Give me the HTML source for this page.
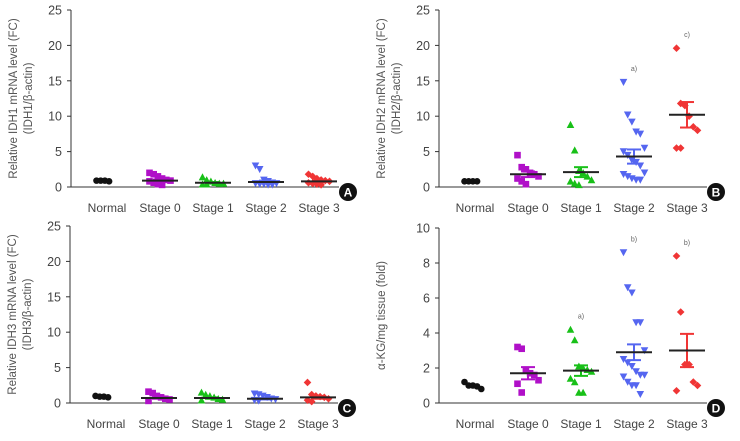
<!DOCTYPE html>
<html><head><meta charset="utf-8"><style>
body{margin:0;background:#fff;}
svg text{font-family:"Liberation Sans",sans-serif;}
</style></head><body>
<svg id="fig" width="740" height="436" viewBox="0 0 740 436" xmlns="http://www.w3.org/2000/svg"></svg>
<script>
const categories=["Normal","Stage 0","Stage 1","Stage 2","Stage 3"];
const colors=["#111","#b010c8","#18c018","#5566f0","#f03535"];
// Panel A (IDH1)
const aValues=[[0.9,0.9,0.9,0.8],[2.0,1.8,1.5,1.2,1.0,0.9,0.8,0.6,0.4,0.3],[1.4,1.0,0.8,0.6,0.5,0.5,0.4,0.4],[3.0,2.5,1.0,0.8,0.6,0.5,0.5,0.4,0.4,0.3,0.3],[1.8,1.5,1.2,1.0,0.9,0.8,0.6,0.5,0.4,0.3]];
const aMeans=[0.85,0.9,0.6,0.7,0.8];
const aSem=[0,0.15,0.1,0.2,0.15];
// Panel B (IDH2)
const bValues=[[0.8,0.8,0.8,0.8],[4.5,2.8,2.5,2.0,1.8,1.5,1.2,0.8,0.4],[8.8,5.2,2.3,2.0,1.5,1.0,0.8,0.5,0.3],[14.8,10.2,9.2,7.8,7.5,5.5,5.0,4.5,3.8,3.5,3.0,2.0,1.8,1.5,1.2,1.0,1.0],[19.6,11.8,11.5,10.0,8.5,8.0,5.5,5.5]];
const bMeans=[0.8,1.8,2.1,4.3,10.2];
const bSem=[0,0.4,0.7,1.0,1.8];
const bNotes=["","","","a)","c)"];
// Panel C (IDH3)
const cValues=[[1.0,0.9,0.9,0.8],[1.6,1.4,1.0,0.8,0.6,0.5,0.3],[1.5,1.2,1.0,0.8,0.6,0.5,0.4],[1.3,1.2,1.0,0.8,0.6,0.5,0.4,0.3],[2.9,1.2,1.0,0.9,0.8,0.6,0.4,0.2]];
const cMeans=[0.9,0.7,0.7,0.6,0.8];
const cSem=[0,0.1,0.1,0.1,0.2];
// Panel D (alpha-KG)
const dValues=[[1.2,1.0,1.0,0.95,0.8],[3.2,3.1,1.9,1.7,1.6,1.3,1.1,0.6],[4.2,3.6,2.1,2.0,1.9,1.8,1.4,1.2,0.6,0.6],[8.6,6.6,6.3,4.6,4.6,3.0,2.5,2.3,2.1,1.8,1.6,1.6,1.5,1.2,1.0,1.0,0.5],[8.4,5.2,2.2,2.2,1.2,1.0,0.7]];
const dMeans=[1.0,1.7,1.85,2.9,3.0];
const dSem=[0,0.35,0.3,0.45,0.95];
const dNotes=["","","a)","b)","b)"];
const ticks25=[0,5,10,15,20,25];
const ticks10=[0,2,4,6,8,10];

const NS="http://www.w3.org/2000/svg";
const svg=document.getElementById('fig');
function mk(tag,attrs,parent,name){const e=document.createElementNS(NS,tag);for(const k in attrs)e.setAttribute(k,attrs[k]);


(parent||svg).appendChild(e);return e;}
function marker(g,k,x,y,col){
  const s=3.3;
  if(k===0) return mk('circle',{cx:x,cy:y,r:s,fill:col},g,'point-normal');
  if(k===1) return mk('rect',{x:x-s,y:y-s,width:2*s,height:2*s,fill:col},g,'point-stage-0');
  if(k===2) return mk('polygon',{points:`${x},${y-s-0.5} ${x-s-0.5},${y+s} ${x+s+0.5},${y+s}`,fill:col},g,'point-stage-1');
  if(k===3) return mk('polygon',{points:`${x},${y+s+0.5} ${x-s-0.5},${y-s} ${x+s+0.5},${y-s}`,fill:col},g,'point-stage-2');
  return mk('polygon',{points:`${x},${y-s-0.5} ${x+s+0.5},${y} ${x},${y+s+0.5} ${x-s-0.5},${y}`,fill:col},g,'point-stage-3');
}
function panel(p){
  const g=mk('g',{},svg,'panel-'+p.id.toLowerCase());
  const yS=v=>p.y0-(v/p.max)*(p.y0-p.y1);
  const xS=i=>p.x0+36+i*53;
  mk('line',{x1:p.x0,y1:p.y1,x2:p.x0,y2:p.y0,stroke:'#333','stroke-width':1},g,'y-axis');
  mk('line',{x1:p.x0,y1:p.y0,x2:p.x0+268,y2:p.y0,stroke:'#333','stroke-width':1},g,'x-axis');
  p.ticks.forEach(t=>{
    mk('line',{x1:p.x0-4,y1:yS(t),x2:p.x0,y2:yS(t),stroke:'#333'},g,'y-tick');
    const tx=mk('text',{x:p.x0-9,y:yS(t)+4.5,'text-anchor':'end','font-size':12.5,fill:'#444'},g,'y-tick-label');tx.textContent=t;
  });
  categories.forEach((c,i)=>{
    const tx=mk('text',{x:xS(i),y:p.y0+25,'text-anchor':'middle','font-size':12,fill:'#444'},g,'x-tick-label');tx.textContent=c;
  });
  const tl=mk('text',{transform:`translate(${p.x0-54},${(p.y0+p.y1)/2}) rotate(-90)`,'text-anchor':'middle','font-size':11.5,fill:'#555'},g,'y-axis-title');
  p.title.forEach((line,j)=>{const ts=document.createElementNS(NS,'tspan');ts.setAttribute('x',0);ts.setAttribute('dy',j===0?0:15);ts.textContent=line;tl.appendChild(ts);});
  p.vals.forEach((arr,i)=>{
    const col=colors[i];
    arr.forEach((v,j)=>{const off=((j%6)-2.5)*4.2;marker(g,i,xS(i)+off,yS(v),col);});
    const m=p.means[i],s=p.sem[i];
    if(s>0){
      mk('line',{x1:xS(i),y1:yS(m+s),x2:xS(i),y2:yS(m-s),stroke:col,'stroke-width':2},g,'error-bar');
      mk('line',{x1:xS(i)-7,y1:yS(m+s),x2:xS(i)+7,y2:yS(m+s),stroke:col,'stroke-width':2},g,'error-cap');
      mk('line',{x1:xS(i)-7,y1:yS(m-s),x2:xS(i)+7,y2:yS(m-s),stroke:col,'stroke-width':2},g,'error-cap');
    }
    if(i>0) mk('line',{x1:xS(i)-18,y1:yS(m),x2:xS(i)+18,y2:yS(m),stroke:'#222','stroke-width':2},g,'mean-line');
    if(p.notes&&p.notes[i]){
      const mx=Math.max(...arr);
      const tx=mk('text',{x:xS(i),y:yS(mx)-11,'text-anchor':'middle','font-size':7,fill:'#666'},g,'significance-note');tx.textContent=p.notes[i];
    }
  });
  mk('circle',{cx:p.x0+277,cy:p.y0+5,r:9,fill:'#111'},g,'panel-badge');
  const b=mk('text',{x:p.x0+277,y:p.y0+9.5,'text-anchor':'middle','font-size':12,'font-weight':'bold',fill:'#fff'},g,'panel-label');b.textContent=p.id;
}
panel({id:'A',x0:71,y0:187,y1:10,max:25,ticks:ticks25,vals:aValues,means:aMeans,sem:aSem,title:['Relative IDH1 mRNA level (FC)','(IDH1/β-actin)']});
panel({id:'B',x0:439,y0:187,y1:10,max:25,ticks:ticks25,vals:bValues,means:bMeans,sem:bSem,notes:bNotes,title:['Relative IDH2 mRNA level (FC)','(IDH2/β-actin)']});
panel({id:'C',x0:70,y0:403,y1:226,max:25,ticks:ticks25,vals:cValues,means:cMeans,sem:cSem,title:['Relative IDH3 mRNA level (FC)','(IDH3/β-actin)']});
panel({id:'D',x0:439,y0:403,y1:228,max:10,ticks:ticks10,vals:dValues,means:dMeans,sem:dSem,notes:dNotes,title:['α-KG/mg tissue (fold)']});
</script>
</body></html>
